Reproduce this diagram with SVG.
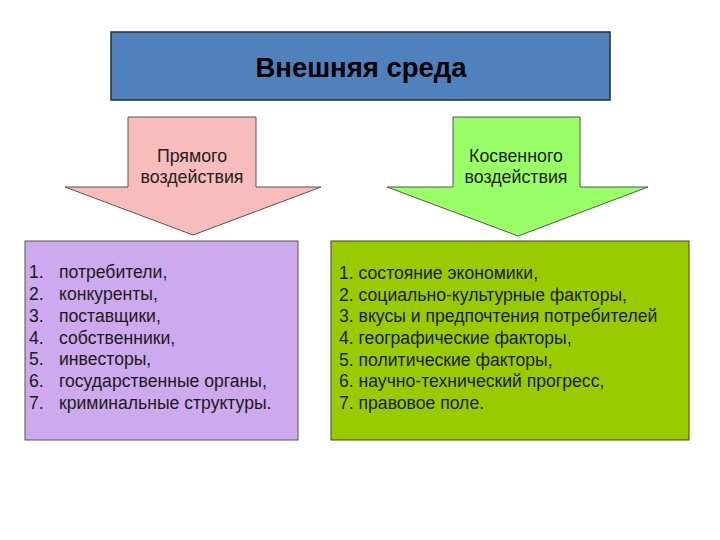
<svg xmlns="http://www.w3.org/2000/svg" width="720" height="540" viewBox="0 0 720 540">
<style>
text{font-family:"Liberation Sans",Arial,sans-serif;fill:#000}
.title{font-size:27.5px;font-weight:bold}
.lbl{font-size:17.8px;fill:#222}
.item{font-size:17.6px;fill:#1a1a1a}
.arrow{stroke:#555;stroke-width:1}
</style>
<rect width="720" height="540" fill="#fff"/>
<g id="top">
<rect x="111" y="32" width="499" height="68" fill="#4f81bd" stroke="#1f2d44" stroke-width="1.5"/>
<text class="title" x="361" y="77" text-anchor="middle">Внешняя среда</text>
</g>
<g id="connectors">
<g id="arrow-direct">
<polygon class="arrow" points="128,117 256,117 256,187 321,187 193,235 65,187 128,187" fill="#f8bcbc"/>
<text class="lbl" x="192" y="162" text-anchor="middle">Прямого</text>
<text class="lbl" x="192" y="183" text-anchor="middle">воздействия</text>
</g>
<g id="arrow-indirect">
<polygon class="arrow" points="453,117 580,117 580,187 648,187 518,236 387,187 453,187" fill="#99ff66"/>
<text class="lbl" x="516" y="162" text-anchor="middle">Косвенного</text>
<text class="lbl" x="516" y="183" text-anchor="middle">воздействия</text>
</g>
</g>
<g id="left-box">
<rect x="25" y="241" width="273" height="199" fill="#cda9ee" stroke="#555" stroke-width="1"/>
<text class="item" x="29" y="278">1.</text><text class="item" x="59" y="278">потребители,</text>
<text class="item" x="29" y="300">2.</text><text class="item" x="59" y="300">конкуренты,</text>
<text class="item" x="29" y="322">3.</text><text class="item" x="59" y="322">поставщики,</text>
<text class="item" x="29" y="344">4.</text><text class="item" x="59" y="344">собственники,</text>
<text class="item" x="29" y="365">5.</text><text class="item" x="59" y="365">инвесторы,</text>
<text class="item" x="29" y="387">6.</text><text class="item" x="59" y="387">государственные органы,</text>
<text class="item" x="29" y="409">7.</text><text class="item" x="59" y="409">криминальные структуры.</text>
</g>
<g id="right-box">
<rect x="331" y="241" width="358" height="199" fill="#99cc00" stroke="#3a4a10" stroke-width="1"/>
<text class="item" x="339" y="279">1. состояние экономики,</text>
<text class="item" x="339" y="301">2. социально-культурные факторы,</text>
<text class="item" x="339" y="322">3. вкусы и предпочтения потребителей</text>
<text class="item" x="339" y="344">4. географические факторы,</text>
<text class="item" x="339" y="366">5. политические факторы,</text>
<text class="item" x="339" y="387">6. научно-технический прогресс,</text>
<text class="item" x="339" y="409">7. правовое поле.</text>
</g>
</svg>
